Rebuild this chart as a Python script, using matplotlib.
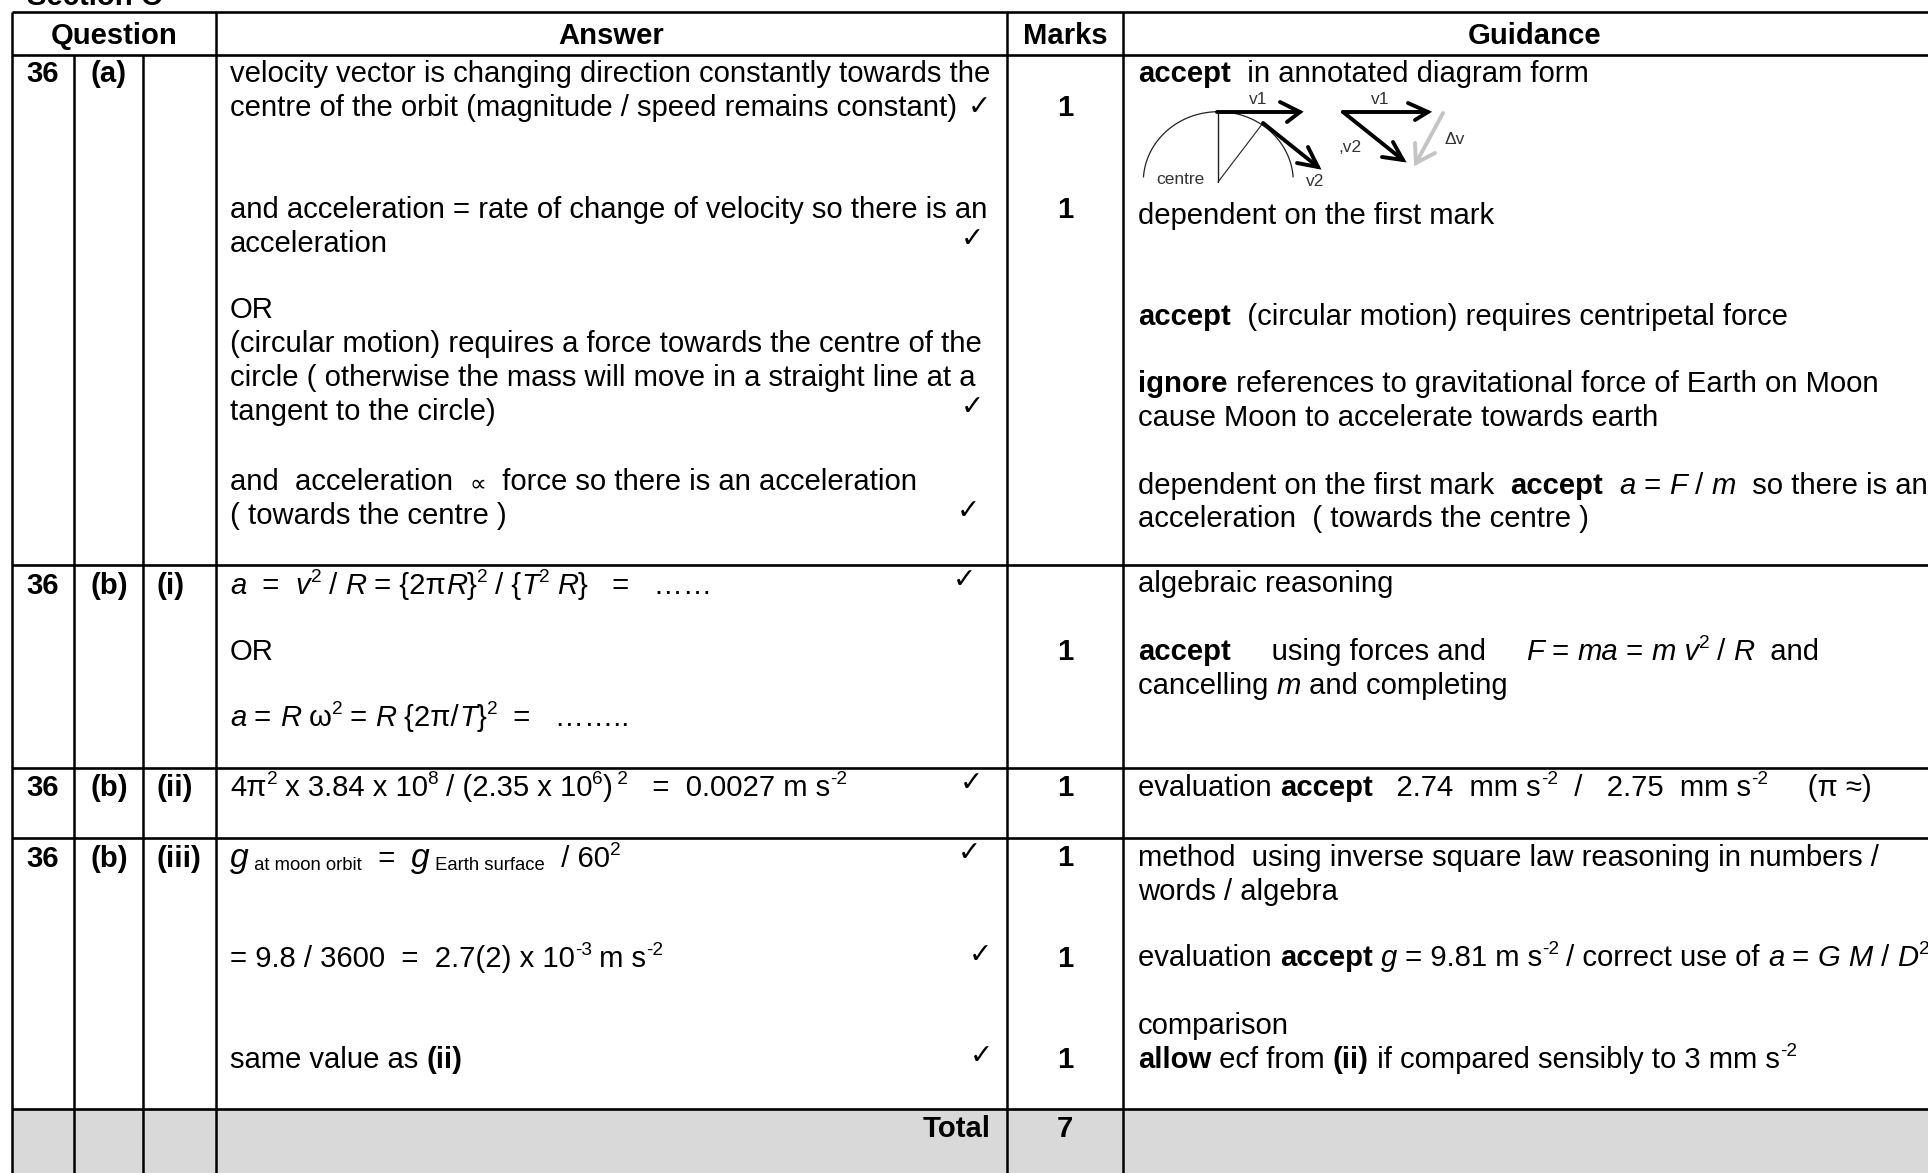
"""
Mark scheme table, Section C question 36, drawn on a pixel-sized axes.
Output: out.png
"""

import matplotlib
matplotlib.use("Agg")
import matplotlib.pyplot as plt
import numpy as np

W, H = 1928, 1173
FAMILY = ["Liberation Sans", "DejaVu Sans"]
BODY = 21.1   # pt, at dpi 100

# ── table grid ────────────────────────────────────────────────────────────────
col_x = [12, 73.5, 142.5, 215.5, 1007, 1123]
row_y = [12, 55, 565, 768, 838, 1109]
total_fill = "#d9d9d9"

headers = ["Question", "Answer", "Marks", "Guidance"]
header_x = [114.5, 611, 1065, 1535]
header_y = 43.5

# ── question labels ───────────────────────────────────────────────────────────
q_number = ["36", "36", "36", "36"]
q_part = ["(a)", "(b)", "(b)", "(b)"]
q_sub = ["", "(i)", "(ii)", "(iii)"]
q_y = [82, 594.5, 796, 867]

# ── answer column (runs: text, style) ─────────────────────────────────────────
answer_lines = [
    [("velocity vector is changing direction constantly towards the", "r")],
    [("centre of the orbit (magnitude / speed remains constant)", "r")],
    [("and acceleration = rate of change of velocity so there is an", "r")],
    [("acceleration", "r")],
    [("OR", "r")],
    [("(circular motion) requires a force towards the centre of the", "r")],
    [("circle ( otherwise the mass will move in a straight line at a", "r")],
    [("tangent to the circle)", "r")],
    [("and  acceleration  ", "r"), ("∝", "s"), ("  force so there is an acceleration", "r")],
    [("( towards the centre )", "r")],
    [("a", "i"), ("  =  ", "r"), ("v", "i"), ("2", "sup"), (" / ", "r"), ("R", "i"), (" = {2π", "r"),
     ("R", "i"), ("}", "r"), ("2", "sup"), (" / {", "r"), ("T", "i"), ("2", "sup"), (" ", "r"),
     ("R", "i"), ("}   =   ……", "r")],
    [("OR", "r")],
    [("a", "i"), (" = ", "r"), ("R", "i"), (" ω", "r"), ("2", "sup"), (" = ", "r"), ("R", "i"),
     (" {2π/", "r"), ("T", "i"), ("}", "r"), ("2", "sup"), ("  =   ……..", "r")],
    [("4π", "r"), ("2", "sup"), (" x 3.84 x 10", "r"), ("8", "sup"), (" / (2.35 x 10", "r"),
     ("6", "sup"), (")", "r"), (" 2", "sup"), ("   =  0.0027 m s", "r"), ("-2", "sup")],
    [("g", "i+"), (" at moon orbit", "sub"), ("  =  ", "r"), ("g", "i+"), (" Earth surface", "sub"),
     ("  / 60", "r"), ("2", "sup")],
    [("= 9.8 / 3600  =  2.7(2) x 10", "r"), ("-3", "sup"), (" m s", "r"), ("-2", "sup")],
    [("same value as ", "r"), ("(ii)", "b")],
]
answer_y = [82, 116.5, 217.5, 251.5, 318, 352, 386.5, 420.5, 490, 523.5,
            594.5, 659.5, 726, 796, 867, 967, 1067.5]

# ── marks column ──────────────────────────────────────────────────────────────
marks = ["1", "1", "1", "1", "1", "1", "1", "7"]
marks_y = [116, 217.5, 660, 796, 866, 967, 1067.5, 1137]

# ── guidance column ───────────────────────────────────────────────────────────
guidance_lines = [
    [("accept", "b"), ("  in annotated diagram form", "r")],
    [("dependent on the first mark", "r")],
    [("accept", "b"), ("  (circular motion) requires centripetal force", "r")],
    [("ignore", "b"), (" references to gravitational force of Earth on Moon", "r")],
    [("cause Moon to accelerate towards earth", "r")],
    [("dependent on the first mark  ", "r"), ("accept", "b"), ("  ", "r"), ("a", "i"), (" = ", "r"),
     ("F", "i"), (" / ", "r"), ("m", "i"), ("  so there is an", "r")],
    [("acceleration  ( towards the centre )", "r")],
    [("algebraic reasoning", "r")],
    [("accept", "b"), ("     using forces and     ", "r"), ("F", "i"), (" = ", "r"), ("ma", "i"),
     (" = ", "r"), ("m v", "i"), ("2", "sup"), (" / ", "r"), ("R", "i"), ("  and", "r")],
    [("cancelling ", "r"), ("m", "i"), (" and completing", "r")],
    [("evaluation ", "r"), ("accept", "b"), ("   2.74  mm s", "r"), ("-2", "sup"),
     ("  /   2.75  mm s", "r"), ("-2", "sup"), ("     (π ≈)", "r")],
    [("method  using inverse square law reasoning in numbers /", "r")],
    [("words / algebra", "r")],
    [("evaluation ", "r"), ("accept", "b"), (" ", "r"), ("g", "i"), (" = 9.81 m s", "r"), ("-2", "sup"),
     (" / correct use of ", "r"), ("a", "i"), (" = ", "r"), ("G M", "i"), (" / ", "r"), ("D", "i"),
     ("2", "sup")],
    [("comparison", "r")],
    [("allow", "b"), (" ecf from ", "r"), ("(ii)", "b"), (" if compared sensibly to 3 mm s", "r"),
     ("-2", "sup")],
]
guidance_y = [82, 224, 325, 392, 426, 494, 527, 592.5, 660, 694, 796, 866, 900, 966.5, 1034, 1067.5]

# ── tick marks in the answer column ───────────────────────────────────────────
check_x = [979, 972, 972, 968, 964, 971, 969, 980, 981]
check_y = [107, 239, 407, 511, 580, 783, 853, 955, 1056]

# ── small vector sketch in the guidance column ────────────────────────────────
sketch_lines = [
    ([1218, 1218], [112, 182], 1.0, "#222222"),
    ([1218, 1263], [182, 123], 0.8, "#222222"),
    ([1217, 1300], [112, 112], 2.8, "black"),
    ([1280, 1300, 1287], [102, 112, 122], 2.8, "black"),
    ([1263, 1318], [123, 167], 2.8, "black"),
    ([1308, 1318, 1297], [147, 167, 163], 2.8, "black"),
    ([1343, 1428], [112, 112], 2.8, "black"),
    ([1408, 1428, 1415], [103, 112, 120], 2.8, "black"),
    ([1343, 1403], [112, 160], 2.8, "black"),
    ([1393, 1403, 1382], [142, 160, 157], 2.8, "black"),
    ([1443, 1416], [113, 163], 2.8, "#c4c4c4"),
    ([1415, 1416, 1435], [143, 163, 153], 2.8, "#c4c4c4"),
]
sketch_labels = ["v1", "v1", ",v2", "v2", "centre", "Δv"]
sketch_label_x = [1258, 1380, 1350, 1315, 1180, 1455]
sketch_label_y = [100, 100, 148, 182, 180, 140]


def draw_runs(ax, renderer, x, y, runs, size=BODY):
    """Lay out mixed-style runs left to right from x along baseline y."""
    for text, style in runs:
        kw = dict(family=FAMILY, fontsize=size, va="baseline", ha="left", color="black")
        dy = 0
        if style == "b":
            kw["fontweight"] = "bold"
        elif style == "i":
            kw["fontstyle"] = "italic"
        elif style == "i+":
            kw["fontstyle"] = "italic"
            kw["fontsize"] = size * 1.15
        elif style == "s":
            kw["fontsize"] = size * 0.8
        elif style == "sup":
            kw["fontsize"] = size * 0.65
            dy = -12
        elif style == "sub":
            kw["fontsize"] = size * 0.63
            dy = 3
        t = ax.text(x, y + dy, text, **kw)
        bb = t.get_window_extent(renderer)
        x += bb.width
        if style == "sup":
            x -= 0.5


fig = plt.figure(figsize=(W / 100, H / 100), dpi=100)
ax = fig.add_axes([0, 0, 1, 1])
ax.set_xlim(0, W)
ax.set_ylim(H, 0)
ax.axis("off")
renderer = fig.canvas.get_renderer()

# grey total row, then the grid
ax.axhspan(row_y[-1], H, xmin=col_x[0] / W, xmax=1, color=total_fill, lw=0, zorder=0)
for yy in row_y:
    ax.plot([col_x[0], W], [yy, yy], color="black", lw=1.9, solid_capstyle="butt", zorder=2)
for i, xx in enumerate(col_x):
    top = row_y[1] if i in (1, 2) else row_y[0]
    ax.plot([xx, xx], [top, H], color="black", lw=1.8, solid_capstyle="butt", zorder=2)

# top-cut section heading
ax.text(27, 5, "Section C", family=FAMILY, fontsize=BODY, fontweight="bold", va="baseline", ha="left")

for label, xx in zip(headers, header_x):
    ax.text(xx, header_y, label, family=FAMILY, fontsize=BODY, fontweight="bold", va="baseline", ha="center")

for num, part, sub, yy in zip(q_number, q_part, q_sub, q_y):
    ax.text(26, yy, num, family=FAMILY, fontsize=BODY, fontweight="bold", va="baseline", ha="left")
    ax.text(90, yy, part, family=FAMILY, fontsize=BODY, fontweight="bold", va="baseline", ha="left")
    ax.text(157, yy, sub, family=FAMILY, fontsize=BODY * 1.02, fontweight="bold", va="baseline", ha="left")

for runs, yy in zip(answer_lines, answer_y):
    draw_runs(ax, renderer, 230, yy, runs)
for runs, yy in zip(guidance_lines, guidance_y):
    draw_runs(ax, renderer, 1138, yy, runs)

ax.text(991, 1137, "Total", family=FAMILY, fontsize=BODY, fontweight="bold", va="baseline", ha="right")
for m, yy in zip(marks, marks_y):
    ax.text(1065, yy, m, family=FAMILY, fontsize=BODY, fontweight="bold", va="baseline", ha="center")

for xx, yy in zip(check_x, check_y):
    ax.text(xx, yy, "✓", family=["DejaVu Sans"], fontsize=20, va="center", ha="center")

# vector sketch
theta = np.radians(np.linspace(184, 356, 80))
ax.plot(1218.3 + 75 * np.cos(theta), 181.7 + 70 * np.sin(theta), color="#222222", lw=0.9)
for xs, ys, lw, col in sketch_lines:
    ax.plot(xs, ys, color=col, lw=lw, solid_capstyle="round", solid_joinstyle="miter")
for label, xx, yy in zip(sketch_labels, sketch_label_x, sketch_label_y):
    ax.text(xx, yy, label, family=FAMILY, fontsize=12.5, color="#333333", va="center", ha="center")

fig.savefig("out.png", dpi=100)
plt.close(fig)
